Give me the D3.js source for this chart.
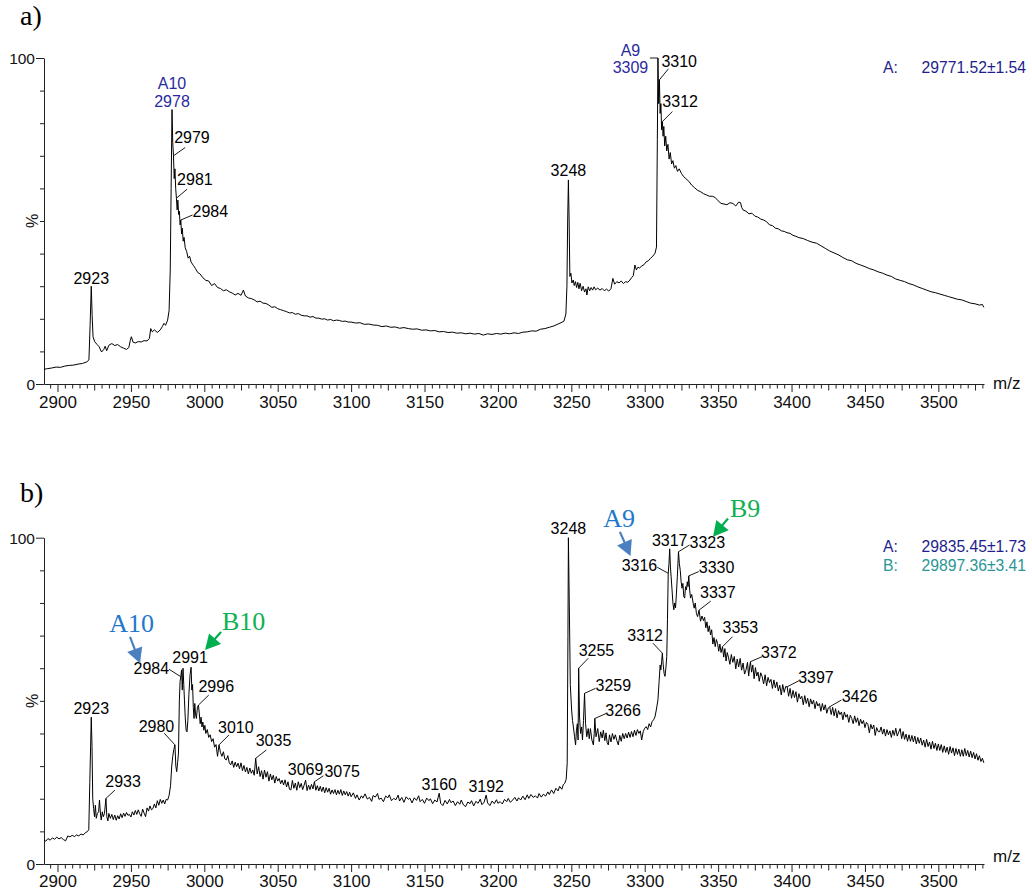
<!DOCTYPE html>
<html>
<head>
<meta charset="utf-8">
<script src="https://cdn.jsdelivr.net/npm/d3@7"></script>
<style>
  body { margin: 0; background: #fff; }
  svg { display: block; }
</style>
</head>
<body>
<svg id="chart" width="1032" height="892"></svg>
<script>
// ---- data: m/z versus relative intensity (%) ----
const spectrumA = [
  [2890.8,4.5],[2893,4.7],[2896,4.9],[2899,5.2],[2902,5.1],[2905,5.5],[2908,5.7],[2911,5.8],[2914,6.1],[2917,6.3],[2920,6.8],
  [2921.4,7.4],[2922.2,18],[2923,30],[2923.6,21],[2924.2,14.5],[2925.3,13],[2926.8,12.2],[2928.4,11.4],[2930,9.8],[2931.5,10.6],
  [2932.5,11.6],[2933.5,10.2],[2935,11.9],[2937,12.4],[2939,11.8],[2941,12.1],[2943,11.4],[2945,11],[2947,10.6],[2948.6,11.2],
  [2949.6,13.4],[2950.3,14.5],[2951.5,12.8],[2953,12.6],[2955,13],[2957,12.9],[2959,13.3],[2961,13.2],[2962.6,14],[2963.5,17],
  [2964.6,16],[2966,16.6],[2968,15.8],[2970,16.6],[2971.4,17.6],[2972.5,18.6],[2973.6,18],[2975,19.6],[2976,22.5],[2976.8,35],
  [2977.4,60],[2978,84.2],[2978.5,74],[2979,70],[2979.5,63],[2980,66],[2980.5,60],[2981,57],[2981.5,53.4],[2982,56.4],
  [2982.5,52],[2983,53],[2983.5,48.8],[2984,50.3],[2984.5,46],[2985,47.8],[2985.6,43.8],[2986.2,45],[2987,41.8],[2988,40.6],
  [2989,38.6],[2990,39.2],[2991,37.4],[2992.5,36.4],[2994,35.4],[2995.5,34.2],[2997,33.8],[2999,32.6],[3001,31.8],[3003,31.6],
  [3005,30.2],[3007,30.8],[3009,29.6],[3011,29.3],[3013,28.6],[3015,28.9],[3017,28.3],[3019,27.9],[3021,27.3],[3023,27.8],
  [3025,27.2],[3026.6,28.8],[3028,27],[3030,26.4],[3032,26.2],[3034,25.8],[3036,25.2],[3038,25.4],[3040,24.8],[3042,24.7],
  [3044,24.2],[3046,23.5],[3048,23.7],[3050,23.1],[3052,22.8],[3054,22.5],[3056,22.2],[3058,21.8],[3060,21.9],[3062,21.4],
  [3064,21.6],[3066,21.1],[3068,20.9],[3070,20.9],[3072,20.5],[3074,20.7],[3076,20.2],[3078,20.2],[3080,19.9],[3082,20],
  [3084,19.6],[3086,19.8],[3088,19.4],[3090,19.6],[3092,19.5],[3094,19.2],[3096,19.3],[3098,19],[3100,19],[3103,18.7],
  [3106,18.8],[3109,18.3],[3112,18.4],[3115,18.1],[3118,18],[3121,17.6],[3124,17.8],[3127,17.4],[3130,17.5],[3133,17.1],
  [3136,17.3],[3139,17],[3142,16.8],[3145,16.9],[3148,16.5],[3151,16.6],[3154,16.3],[3157,16.4],[3160,16],[3163,16.1],
  [3166,15.8],[3169,15.9],[3172,15.6],[3175,15.7],[3178,15.4],[3181,15.6],[3184,15.3],[3187,15.5],[3190,15],[3193,15.4],
  [3196,15.2],[3199,15.5],[3202,15.3],[3205,15.6],[3208,15.4],[3211,15.7],[3214,15.5],[3217,15.9],[3220,16],[3223,16.3],
  [3226,16.2],[3229,16.8],[3232,17],[3235,17.4],[3238,17.8],[3241,18.4],[3243,18.8],[3245,19.3],[3246.3,21.5],[3247,30],
  [3247.5,50],[3248,62.6],[3248.5,50],[3249,33],[3249.7,34],[3250.4,31],[3251.3,31.9],[3252,30.2],[3252.8,31.4],[3253.6,29.6],
  [3254.4,31.2],[3255.2,29.2],[3256,30.9],[3257,28.6],[3258,30],[3259,28.2],[3260,29.2],[3260.6,27.3],[3261.5,29.8],[3262.5,28.6],
  [3263.5,29.6],[3264.5,28.8],[3265.5,29.8],[3266.5,28.9],[3268,29.4],[3269.5,28.8],[3271,29.3],[3272.5,28.6],[3274,29.1],
  [3275.5,28.5],[3277,29.2],[3278.3,32.4],[3279.5,30.6],[3281,31.4],[3282.5,31],[3284,31.6],[3285.5,30.8],[3287,31.4],
  [3288.5,31.2],[3289.9,31.9],[3291,32.6],[3292.2,33.2],[3293.3,36.5],[3294.3,35],[3295.3,35.8],[3296.5,35.6],[3298,36.2],
  [3299.5,36.6],[3301,37.5],[3302.5,37.8],[3304,38.6],[3305.5,39.2],[3307,40.1],[3308,42],[3308.6,75],[3309,100],[3309.5,86],
  [3310,93.3],[3310.5,83],[3311,86],[3311.5,78],[3312,80.5],[3312.5,76],[3313,79],[3313.6,73],[3314.3,76],[3315,71.5],
  [3315.8,73.5],[3316.6,69],[3317.4,71],[3318.3,67.5],[3319.2,68.5],[3320.2,66.2],[3321.2,67],[3322.3,65.2],[3323.5,66],
  [3325,64.6],[3326.5,63.6],[3328,63],[3330,62.2],[3332,61],[3334,60.2],[3336,59.4],[3338,59],[3340,58.4],[3342,58],
  [3344,57.6],[3346,57.6],[3348,57.2],[3350,56.2],[3352,55.4],[3354,55.2],[3356,55],[3358,55.6],[3360,55.4],[3362,54.6],
  [3364,55.8],[3365.3,55.6],[3366,54.2],[3367,53.4],[3369,53],[3371,52.2],[3373,52.4],[3375,51.5],[3377,51.2],[3379,50.6],
  [3381,50.3],[3383,49.8],[3385,48.8],[3387,48.6],[3389,47.8],[3391,47.6],[3393,47],[3395,46.8],[3397,46.4],[3399,46.2],
  [3401,45.6],[3403,45.3],[3405,44.9],[3408,44.6],[3411,44],[3414,43.5],[3417,43.2],[3420,42.4],[3423,41.6],[3426,40.8],
  [3429,40.2],[3432,39.6],[3435,38.8],[3438,38.1],[3441,37.8],[3444,37],[3447,36.5],[3450,36],[3453,35.4],[3456,35],
  [3459,34.4],[3462,34],[3465,33.4],[3468,33],[3471,32.2],[3474,31.8],[3477,31.4],[3480,30.8],[3483,30.4],[3486,29.8],
  [3489,29.3],[3492,28.8],[3495,28.3],[3498,28],[3501,27.6],[3504,27.2],[3507,26.8],[3510,26.4],[3513,26],[3516,25.8],
  [3519,25.3],[3522,24.8],[3525,24.6],[3528,24.2],[3530,24.4],[3531,23.5]
];

const spectrumB = [
  [2890.8,7.4],[2892,7.0],[2893.5,7.8],[2895,7.3],[2896.5,8.0],[2898,7.6],[2899.5,8.2],[2901,7.7],[2902.5,8.1],[2904,7.5],
  [2905.5,7.1],[2907,8.6],[2908.5,8.3],[2910,8.8],[2911.5,8.4],[2913,8.9],[2914.5,8.6],[2916,9.2],[2917.5,8.9],[2919,9.6],
  [2920.3,9.9],[2921.3,10.5],[2922,25],[2923,45],[2923.5,36],[2924,20],[2924.6,17],[2925.2,14.5],[2925.8,18],[2926.4,14],
  [2927.2,15.5],[2928,16],[2928.6,19.6],[2929.3,15],[2929.8,13.5],[2930.5,16],[2931.2,14.5],[2932,15.5],[2933,20.1],
  [2933.6,14.5],[2934.3,13.2],[2935,15.5],[2936,14],[2937,15.2],[2938,13.6],[2939,15],[2940,13.4],[2941,14.8],[2942,13.8],
  [2943,15.4],[2944,14.2],[2945,15.6],[2946,14.6],[2947,15.8],[2948,14.9],[2949,15.2],[2950,14.4],[2951,16],[2952,15],
  [2953,16.4],[2954,15.2],[2955,16.6],[2956,15.4],[2957,14.6],[2958,16.8],[2959,15.6],[2960,14.5],[2961,17.2],[2962,16.2],
  [2963,17.8],[2964,16.6],[2965,17],[2966,18.4],[2967,17.2],[2968,19.4],[2969,18],[2970,19.8],[2971,18.6],[2972,19.6],
  [2973,18.4],[2974,19.8],[2975,19.6],[2976,21],[2977,24],[2977.8,30],[2978.5,33],[2979.2,35],[2980,36.5],[2980.6,30],
  [2981.2,28.3],[2981.8,31],[2982.4,34],[2983,50],[2983.5,56],[2984,57.4],[2984.5,59.5],[2985,53.3],[2985.5,60],[2986,55],
  [2986.5,50],[2987,45],[2987.6,41],[2988.2,40.5],[2988.8,44],[2989.5,52],[2990.3,58],[2991,60.3],[2991.5,53.3],[2992,55],
  [2992.5,48],[2993,44.6],[2993.5,49.2],[2994,46],[2994.6,44.6],[2995.3,48],[2996,48.7],[2996.6,46],[2997.2,43],[2997.8,45],
  [2998.4,42],[2999,43.5],[2999.7,41],[3000.4,42.5],[3001,40],[3002,41.2],[3003,38.8],[3004,39.6],[3005,37.5],[3006,38.4],
  [3007,35.8],[3008,36.6],[3009,33],[3010,36.5],[3011,34.2],[3012,33],[3013,34.4],[3014,32.2],[3015,31.9],[3016,33.2],
  [3017,31],[3018,30.4],[3019,31.6],[3020,29.6],[3021,31.2],[3022,29.8],[3023,30.9],[3024,29.2],[3025,31],[3026,28.6],
  [3027,30.2],[3028,28.2],[3029,29.6],[3030,27.6],[3031,29.4],[3032,27.8],[3033,28.8],[3034,27.2],[3035,32.4],[3036,27.6],
  [3037,29.8],[3038,26.8],[3039,28.6],[3040,26],[3041,28.8],[3042,26.6],[3043,28.3],[3044,25.4],[3045,27.6],[3046,25.8],
  [3047,27.2],[3048,24.8],[3049,26.8],[3050,25.4],[3051,26.2],[3052,24.6],[3053,25.7],[3054,24.2],[3055,25.8],[3056,23.6],
  [3057,25.2],[3058,22.9],[3059,22.7],[3060,25.6],[3061,23.2],[3062,24.8],[3063,22.6],[3064,25.2],[3065,23.4],[3066,24.7],
  [3067,22.8],[3068,24.2],[3069,25.7],[3070,22.5],[3071,24.2],[3072,22.8],[3073,24.4],[3074,23],[3075,25.2],[3076,22.6],
  [3077,24],[3078,22.4],[3079,23.8],[3080,22.2],[3081,23.6],[3082,21.8],[3083,23.4],[3084,22],[3085,23.2],[3086,21.4],
  [3087,22.7],[3088,21.6],[3089,22.8],[3090,21.2],[3091,22.6],[3092,21.4],[3093,22.8],[3094,21],[3095,22.4],[3096,21.2],
  [3097,22.2],[3098,20.8],[3099,22],[3100,20.6],[3101.5,21.8],[3103,20.1],[3104,21.2],[3105.5,19.6],[3107,20.9],[3108,20.2],
  [3109.5,21.5],[3111,19.9],[3112.5,20.4],[3114,19.2],[3115,21],[3116.5,20.5],[3118,21.6],[3119,19.8],[3120.5,20.2],
  [3122,19.1],[3123.5,20.8],[3125,20.3],[3126,21.2],[3127.5,19.4],[3129,20.1],[3130.5,19.7],[3132,21.1],[3133,19.3],
  [3134.5,20.4],[3136,18.9],[3137.5,20.6],[3139,19.8],[3140,20.2],[3141.5,18.7],[3143,20.3],[3144.5,19.5],[3146,20.9],
  [3147,19.1],[3148.5,19.8],[3150,18.6],[3151.5,20.2],[3153,19.4],[3154,20],[3155.5,18.5],[3157,19.6],[3158.5,19],
  [3160,21.7],[3161,18.6],[3162.5,17.9],[3164,19.5],[3165.5,18.4],[3167,19.8],[3168,18.8],[3169.5,19.3],[3171,17.9],
  [3172.5,19.1],[3174,18.3],[3175,19.6],[3176.5,18.1],[3178,17.6],[3179.5,19],[3181,18.5],[3182,19.4],[3183.5,17.8],
  [3185,19.2],[3186.5,18.6],[3188,19.9],[3189,18.2],[3190.5,18.8],[3192,21.1],[3193,18.7],[3194.5,17.9],[3196,19.3],
  [3197.5,18.5],[3199,19.7],[3200,18.6],[3201.5,19.1],[3203,18.4],[3204.5,19.8],[3206,19.1],[3207,20.1],[3208.5,18.9],
  [3210,19.6],[3211.5,20.4],[3213,19.3],[3214,20.3],[3215.5,19.6],[3217,20.8],[3218.5,19.7],[3220,21.2],[3221,20.1],
  [3222.5,21.3],[3224,20.4],[3225.5,20.9],[3227,20.2],[3228,21.6],[3229.5,20.5],[3231,21.4],[3232.5,20.8],[3234,22.1],
  [3235,21.3],[3236.5,22.7],[3238,21.6],[3239.5,23.2],[3241,22.4],[3242,23.8],[3243.5,22.9],[3244.5,24.3],[3245.5,24.7],
  [3246.5,26],[3247.2,31],[3247.7,70],[3248,100],[3248.6,80],[3249.3,55],[3250.2,47.2],[3250.8,44],[3251.4,42],[3252.2,39],
  [3252.9,36.5],[3253.5,41],[3254.1,43],[3254.6,38],[3255,60],[3255.6,45],[3256.3,40],[3257,42],[3257.6,38],[3258.3,44],
  [3259,52.3],[3259.7,43],[3260.5,39],[3261.5,41.5],[3262.2,38.4],[3263,41.5],[3264,38],[3265,36.5],[3265.6,40],[3266,44.6],
  [3266.8,39],[3268,41.5],[3269,37.5],[3270,40.5],[3271,38.6],[3271.8,41],[3272.8,37.8],[3273.6,40.2],[3274.4,37.2],
  [3275.2,36.5],[3276,39.6],[3277,37.4],[3278,40],[3279,38.2],[3280,39.6],[3281,37.8],[3282,36.5],[3283,39.4],[3284,37.6],
  [3285,40],[3286,38.4],[3287,40],[3288,38.6],[3289,40.4],[3290,38.8],[3291,40.6],[3292,39],[3293,41],[3294,39.4],[3295,41.2],
  [3296,40],[3297,40.8],[3297.9,38],[3299,40.6],[3300,41.6],[3301,42.1],[3302,41.2],[3303,43],[3304,42],[3305,43.6],
  [3306,44.2],[3307,45.1],[3308,47.5],[3309,50.3],[3309.8,56],[3310.5,61],[3311,59.5],[3311.5,62],[3312,64.6],[3312.6,61],
  [3313.2,58.4],[3313.8,57.5],[3314.4,60],[3315,63.6],[3315.5,75],[3316,89.1],[3316.5,92],[3317,96.6],[3317.5,91],[3318,88],
  [3318.6,84],[3319.2,80],[3319.8,77.9],[3320.4,80],[3321,78.5],[3321.6,83],[3322.2,88],[3323,95.7],[3323.6,92],[3324.2,90],
  [3324.8,86.5],[3325.4,84.5],[3326,86],[3326.6,82],[3327.2,81.5],[3327.8,85],[3328.4,84],[3329,86.5],[3329.5,85],[3330,88.3],
  [3330.6,84],[3331.2,81.5],[3332,82.6],[3333,79.9],[3333.7,78.4],[3334.4,80],[3335.2,76.8],[3336,75.8],[3337,77.8],
  [3338,74.4],[3339,76],[3340,74.6],[3340.8,75.6],[3341.6,72.4],[3342.4,74.2],[3343.2,71.2],[3344,73],[3344.8,70.2],
  [3345.6,71.8],[3346.4,67.4],[3347.2,69.4],[3348,66.6],[3348.8,68.8],[3349.6,67.6],[3350.4,65.2],[3351.2,67.4],[3352,64.8],
  [3353,66.6],[3353.8,63.4],[3354.6,66],[3355.4,62.2],[3356.2,64.8],[3357,63.4],[3358,61.2],[3359,64.2],[3360,61.8],
  [3361,63.6],[3362,59.8],[3363,62.8],[3364,60.4],[3365,63],[3366,59.4],[3367,61.6],[3368,58.2],[3369,59.5],[3370,61.8],
  [3370.8,57.6],[3371.5,60.4],[3372,62],[3372.8,58.8],[3373.6,61],[3374.5,56.8],[3375.4,60.2],[3376.3,57.6],[3377.2,58.8],
  [3378,56],[3379,58.6],[3380,57.4],[3381,55.2],[3382,58],[3383,54.6],[3384,57.2],[3385,55.6],[3386,56.6],[3387,53.8],
  [3388,56.4],[3389,54],[3390,55.8],[3391,53],[3392,54.8],[3393,51.8],[3394,55],[3395,52.6],[3396,54.4],[3397,54.3],
  [3398,51.4],[3399,53.8],[3400,50.8],[3401,53.2],[3402,51],[3403,52.8],[3404,49.6],[3405,52.2],[3406,50.6],[3407,51.4],
  [3408,48.8],[3409,51.6],[3410,49.2],[3411,50.8],[3412,48.2],[3413,50.6],[3414,49],[3415,50.2],[3416,47.6],[3417,49.8],
  [3418,48.4],[3419,49.2],[3420,46.8],[3421,49.2],[3422,47.2],[3423,48.8],[3424,46.2],[3425,47.8],[3426,48.2],[3427,45.8],
  [3428,48],[3429,45.4],[3430,47.6],[3431,44.8],[3432,47],[3433,45.8],[3434,46.6],[3435,44.2],[3436,46.6],[3437,45],
  [3438,45.8],[3439,43.4],[3440,45.6],[3441,44.6],[3442,43],[3443,45.4],[3444,43.4],[3445,44.8],[3446,42.4],[3447,44.4],
  [3448,43],[3449,44],[3450,41.8],[3451,43.4],[3452,42.8],[3453,40.2],[3454,42.8],[3455,41.4],[3456,42.6],[3457,39.4],
  [3458,41.8],[3459,40.6],[3460,40.5],[3461,42],[3462,39.8],[3463,41.4],[3464,39.2],[3465,41.2],[3466,39.6],[3467,40.8],
  [3468,38.8],[3469,41],[3470,39.4],[3471,41.6],[3472,39.2],[3473,40.4],[3474,41.5],[3475,38.4],[3476,40.6],[3477,38.2],
  [3478,39.8],[3479,37.6],[3480,39.6],[3481,37.6],[3482,39.4],[3483,37.4],[3484,39.2],[3485,36.8],[3486,38.8],[3487,37],
  [3488,38.6],[3489,36.4],[3490,38],[3491,35.8],[3492,38.2],[3493,36],[3494,37.4],[3495,35.2],[3496,37.6],[3497,35.4],
  [3498,37],[3499,34.8],[3500,36.8],[3501,34.8],[3502,36.6],[3503,34.2],[3504,36.2],[3505,34.2],[3506,35.8],[3507,33.6],
  [3508,36],[3509,34],[3510,35.6],[3511,33.2],[3512,35.4],[3513,33.6],[3514,35.2],[3515,33],[3516,35],[3517,33],
  [3518,35.4],[3519,33.2],[3520,34.8],[3521,32.8],[3522,34.6],[3523,32.6],[3524,34.2],[3525,32.2],[3526,33.8],[3527,31.8],
  [3528,33.2],[3529,31.4],[3530,32.4],[3531,31]
];

// annotated peak m/z values
const peakLabelsA = [2923, 2978, 2979, 2981, 2984, 3248, 3309, 3310, 3312];
const peakLabelsB = [2923, 2933, 2980, 2984, 2991, 2996, 3010, 3035, 3069, 3075, 3160, 3192, 3248,
                     3255, 3259, 3266, 3312, 3316, 3317, 3323, 3330, 3337, 3353, 3372, 3397, 3426];
// charge-state assignments
const chargeTagsA = { 2978: "A10", 3309: "A9" };
const arrowTagsB = ["A10", "B10", "A9", "B9"];

// deconvoluted masses
const massNamesA = ["A:"];
const massValuesA = ["29771.52\u00b11.54"];
const massNamesB = ["A:", "B:"];
const massValuesB = ["29835.45\u00b11.73", "29897.36\u00b13.41"];

const axisTicksMajor = [2900, 2950, 3000, 3050, 3100, 3150, 3200, 3250, 3300, 3350, 3400, 3450, 3500];

// ---- drawing ----
const SANS = "'Liberation Sans', Arial, sans-serif";
const SERIF = "'Liberation Serif', 'Times New Roman', serif";
const svg = d3.select("#chart");
const x = d3.scaleLinear().domain([2890.8, 3531.1]).range([44, 984]);

// label placement relative to the labelled point: leader end, text offset, anchor
const layoutA = {
  2923: { tx: 0, ty: -2, a: "middle" },
  2978: { tx: 0, ty: -3, a: "middle", navy: true, tagDy: -18 },
  2979: { lead: [11.7, -8.3], tx: 0.7, ty: -13.3, a: "start" },
  2981: { lead: [10.7, -9], tx: 0.7, ty: -13, a: "start" },
  2984: { lead: [11.7, -5], tx: 11.7, ty: -3.3, a: "start" },
  3248: { tx: 0, ty: -4, a: "middle" },
  3309: { lead: [-8, 0], tx: -27.5, ty: 15.3, a: "middle", navy: true, tagDy: -17.6 },
  3310: { lead: [9, -11], tx: 2, ty: -13.3, a: "start" },
  3312: { lead: [10, -10], tx: 0, ty: -15, a: "start" }
};
const layoutB = {
  2923: { tx: 0, ty: -3, a: "middle" },
  2933: { lead: [9, -8.3], tx: -0.7, ty: -11, a: "start" },
  2980: { lead: [-10.7, -11.7], tx: -0.7, ty: -12.7, a: "end" },
  2984: { lead: [-11.7, -7.4], tx: -11.7, ty: -2.4, a: "end" },
  2991: { tx: -1, ty: -4, a: "middle" },
  2996: { lead: [10.3, -10], tx: 0, ty: -13.3, a: "start" },
  3010: { lead: [10, -10], tx: -1, ty: -11.7, a: "start" },
  3035: { lead: [10.7, -8.3], tx: 0, ty: -12, a: "start" },
  3069: { tx: 0, ty: -5, a: "middle" },
  3075: { lead: [9, -6], tx: 10, ty: -4.4, a: "start" },
  3160: { tx: 0, ty: -3, a: "middle" },
  3192: { tx: 0, ty: -3, a: "middle" },
  3248: { tx: 0, ty: -3.4, a: "middle" },
  3255: { lead: [9.6, -10], tx: 0, ty: -12.7, a: "start" },
  3259: { lead: [11, -5], tx: 11, ty: -2.6, a: "start" },
  3266: { lead: [11.4, -5], tx: 10.5, ty: -2.6, a: "start" },
  3312: { lead: [-9.4, -10], tx: 0.6, ty: -12.6, a: "end" },
  3316: { lead: [-11, -6], tx: -11, ty: -2, a: "end" },
  3317: { tx: 0, ty: -2.7, a: "middle" },
  3323: { lead: [11, -6.7], tx: 11, ty: -3.7, a: "start" },
  3330: { lead: [10, -4.3], tx: 10, ty: -3, a: "start" },
  3337: { lead: [11.7, -9], tx: 1, ty: -12, a: "start" },
  3353: { lead: [10, -10], tx: 0, ty: -13.7, a: "start" },
  3372: { lead: [11.6, -5], tx: 10.6, ty: -3.7, a: "start" },
  3397: { lead: [11.7, -6], tx: 11, ty: -3.7, a: "start" },
  3426: { lead: [11.7, -6.7], tx: 12, ty: -4.7, a: "start" }
};

// arrows for charge states in panel b (data coordinates)
const arrowLayout = {
  "A10": { color: "#4a7fc0", text: "#2277cc", tx: 2950.5, ty: 71.2, anchor: "middle", from: [2949.4, 69.6], to: [2956.2, 61.5] },
  "B10": { color: "#00b050", text: "#10b050", tx: 3012.0, ty: 71.7, anchor: "start", from: [3011.4, 71.1], to: [3000.5, 65.6] },
  "A9":  { color: "#4a7fc0", text: "#2277cc", tx: 3282.6, ty: 103.4, anchor: "middle", from: [3283.1, 101.8], to: [3290.3, 94.4] },
  "B9":  { color: "#00b050", text: "#10b050", tx: 3358.1, ty: 106.4, anchor: "start", from: [3356.7, 105.9], to: [3346.5, 100.3] }
};

const panels = [
  { tag: "a)", tagY: 25, top: 58, base: 384, data: spectrumA, labels: peakLabelsA, layout: layoutA,
    names: massNamesA, values: massValuesA, massY: 72.7, mzDy: 4.5, tickDy: 23.5 },
  { tag: "b)", tagY: 502, top: 537.7, base: 864, data: spectrumB, labels: peakLabelsB, layout: layoutB,
    names: massNamesB, values: massValuesB, massY: 552.3, mzDy: -2, tickDy: 22.7, arrows: arrowTagsB }
];

function drawArrow(g, x1, y1, x2, y2, color) {
  const dx = x2 - x1, dy = y2 - y1, len = Math.hypot(dx, dy);
  const ux = dx / len, uy = dy / len, head = 15, half = 8;
  const bx = x2 - ux * head, by = y2 - uy * head;
  g.append("line").attr("x1", x1).attr("y1", y1).attr("x2", bx + ux).attr("y2", by + uy)
    .attr("stroke", color).attr("stroke-width", 2.2);
  g.append("path")
    .attr("d", `M${x2},${y2}L${bx - uy * half},${by + ux * half}L${bx + uy * half},${by - ux * half}Z`)
    .attr("fill", color);
}

panels.forEach(p => {
  const y = d3.scaleLinear().domain([0, 100]).range([p.base, p.top]);
  const g = svg.append("g");

  // panel tag
  g.append("text").attr("x", 20).attr("y", p.tagY).attr("font-family", SERIF)
    .attr("font-size", 28).attr("fill", "#000").text(p.tag);

  // x axis: minor ticks every 5, medium every 25, labelled every 50
  const minor = d3.range(2895, 3531, 5).filter(v => v % 25 !== 0);
  const mid = d3.range(2900, 3531, 25).filter(v => v % 50 !== 0);
  const xg = g.append("g").attr("transform", `translate(0,${p.base})`);
  xg.append("g").call(d3.axisBottom(x).tickValues(minor).tickSize(4.5).tickSizeOuter(0).tickFormat(""))
    .call(s => s.select(".domain").remove());
  xg.append("g").call(d3.axisBottom(x).tickValues(mid).tickSize(6.5).tickSizeOuter(0).tickFormat(""))
    .call(s => s.select(".domain").remove());
  const xMain = xg.append("g").call(d3.axisBottom(x).tickValues(axisTicksMajor).tickSize(8)
    .tickSizeOuter(0).tickPadding(3).tickFormat(d3.format("d")));
  xg.selectAll("g").attr("color", "#222");
  xMain.selectAll("text").attr("font-family", SANS).attr("font-size", 17).attr("fill", "#111")
    .attr("dy", null).attr("y", p.tickDy);
  xg.append("text").attr("x", 993).attr("y", p.mzDy).attr("font-family", SANS).attr("font-size", 17)
    .attr("fill", "#111").text("m/z");

  // y axis
  const yg = g.append("g").attr("transform", "translate(44,0)");
  yg.append("g").call(d3.axisLeft(y).tickValues(d3.range(10, 100, 10)).tickSize(4).tickSizeOuter(0).tickFormat(""))
    .call(s => s.select(".domain").remove());
  const yMain = yg.append("g").call(d3.axisLeft(y).tickValues([0, 100]).tickSize(8).tickSizeOuter(0).tickPadding(1));
  yg.selectAll("g").attr("color", "#222");
  yMain.selectAll("text").attr("font-family", SANS).attr("font-size", 15.5).attr("fill", "#111").attr("dy", "0.36em");
  g.append("text").attr("transform", `translate(38,${y(50)}) rotate(-90)`).attr("text-anchor", "middle")
    .attr("font-family", SANS).attr("font-size", 16).attr("fill", "#111").text("%");

  // spectrum trace
  const line = d3.line().x(d => x(d[0])).y(d => y(d[1]));
  g.append("path").datum(p.data).attr("d", line).attr("fill", "none")
    .attr("stroke", "#000").attr("stroke-width", 1).attr("stroke-linejoin", "miter");

  // peak labels with leader lines
  p.labels.forEach(mz => {
    const pt = d3.least(p.data, d => Math.abs(d[0] - mz));
    const px = x(pt[0]), py = y(pt[1]);
    const L = p.layout[mz];
    if (L.lead) {
      g.append("line").attr("x1", px).attr("y1", py).attr("x2", px + L.lead[0]).attr("y2", py + L.lead[1])
        .attr("stroke", "#000").attr("stroke-width", 0.9);
    }
    const col = L.navy ? "#2a2a9e" : "#000";
    g.append("text").attr("x", px + L.tx).attr("y", py + L.ty).attr("text-anchor", L.a)
      .attr("font-family", SANS).attr("font-size", 16).attr("fill", col).text(mz);
    if (L.navy && chargeTagsA[mz]) {
      g.append("text").attr("x", px + L.tx).attr("y", py + L.ty + L.tagDy).attr("text-anchor", L.a)
        .attr("font-family", SANS).attr("font-size", 16).attr("fill", col).text(chargeTagsA[mz]);
    }
  });

  // charge-state arrows
  (p.arrows || []).forEach(tag => {
    const A = arrowLayout[tag];
    g.append("text").attr("x", x(A.tx)).attr("y", y(A.ty)).attr("text-anchor", A.anchor)
      .attr("font-family", SERIF).attr("font-size", 26).attr("fill", A.text).text(tag);
    drawArrow(g, x(A.from[0]), y(A.from[1]), x(A.to[0]), y(A.to[1]), A.color);
  });

  // deconvoluted mass results
  const massColors = { "A:": "#1e1e8c", "B:": "#2a9696" };
  p.names.forEach((nm, i) => {
    const yy = p.massY + i * 18.4;
    g.append("text").attr("x", 883).attr("y", yy).attr("font-family", SANS).attr("font-size", 15.7)
      .attr("fill", massColors[nm]).text(nm);
    g.append("text").attr("x", 921.5).attr("y", yy).attr("font-family", SANS).attr("font-size", 15.7)
      .attr("fill", massColors[nm]).text(p.values[i]);
  });
});
</script>
</body>
</html>
